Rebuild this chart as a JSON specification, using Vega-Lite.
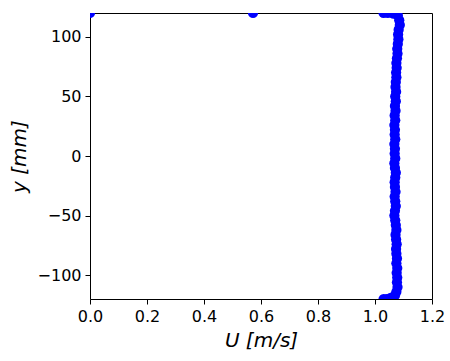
{
  "$schema": "https://vega.github.io/schema/vega-lite/v6.json",
  "width": 342,
  "height": 286,
  "autosize": {"type": "none"},
  "padding": {"left": 90, "top": 13, "right": 18, "bottom": 62},
  "background": "white",
  "config": {
    "view": {"stroke": "black", "strokeWidth": 1},
    "font": "DejaVu Sans",
    "axis": {
      "grid": false,
      "domain": false,
      "labelFlush": false,
      "tickColor": "black",
      "tickSize": 5,
      "tickWidth": 1,
      "labelColor": "black",
      "labelFont": "DejaVu Sans",
      "labelFontSize": 16,
      "labelPadding": 4,
      "titleFont": "DejaVu Sans",
      "titleFontSize": 20,
      "titleFontWeight": "normal",
      "titleFontStyle": "italic",
      "titleColor": "black"
    }
  },
  "data": {
    "values": [
      {"u": 0.0, "y": 120},
      {"u": 0.572, "y": 120},
      {"u": 1.03, "y": 120},
      {"u": 1.045, "y": 120},
      {"u": 1.065, "y": 119.5},
      {"u": 1.08, "y": 118},
      {"u": 1.085, "y": 114},
      {"u": 1.087, "y": 110},
      {"u": 1.083, "y": 106},
      {"u": 1.081, "y": 102},
      {"u": 1.082, "y": 98},
      {"u": 1.08, "y": 94},
      {"u": 1.078, "y": 90},
      {"u": 1.079, "y": 86},
      {"u": 1.077, "y": 82},
      {"u": 1.075, "y": 78},
      {"u": 1.076, "y": 74},
      {"u": 1.074, "y": 70},
      {"u": 1.075, "y": 66},
      {"u": 1.073, "y": 62},
      {"u": 1.072, "y": 58},
      {"u": 1.074, "y": 54},
      {"u": 1.071, "y": 50},
      {"u": 1.073, "y": 46},
      {"u": 1.07, "y": 42},
      {"u": 1.072, "y": 38},
      {"u": 1.069, "y": 34},
      {"u": 1.071, "y": 30},
      {"u": 1.068, "y": 26},
      {"u": 1.07, "y": 22},
      {"u": 1.069, "y": 18},
      {"u": 1.071, "y": 14},
      {"u": 1.068, "y": 10},
      {"u": 1.07, "y": 6},
      {"u": 1.069, "y": 2},
      {"u": 1.071, "y": -2},
      {"u": 1.068, "y": -6},
      {"u": 1.07, "y": -10},
      {"u": 1.073, "y": -14},
      {"u": 1.071, "y": -18},
      {"u": 1.069, "y": -22},
      {"u": 1.07, "y": -26},
      {"u": 1.072, "y": -30},
      {"u": 1.069, "y": -34},
      {"u": 1.071, "y": -38},
      {"u": 1.073, "y": -42},
      {"u": 1.07, "y": -46},
      {"u": 1.068, "y": -50},
      {"u": 1.071, "y": -54},
      {"u": 1.073, "y": -58},
      {"u": 1.075, "y": -62},
      {"u": 1.072, "y": -66},
      {"u": 1.074, "y": -70},
      {"u": 1.076, "y": -74},
      {"u": 1.074, "y": -78},
      {"u": 1.075, "y": -82},
      {"u": 1.077, "y": -86},
      {"u": 1.075, "y": -90},
      {"u": 1.078, "y": -94},
      {"u": 1.076, "y": -98},
      {"u": 1.078, "y": -102},
      {"u": 1.077, "y": -106},
      {"u": 1.079, "y": -110},
      {"u": 1.075, "y": -114},
      {"u": 1.07, "y": -117},
      {"u": 1.055, "y": -119},
      {"u": 1.04, "y": -120},
      {"u": 1.03, "y": -120}
    ]
  },
  "mark": {"type": "circle", "color": "#0000ff", "opacity": 1, "size": 105, "clip": true},
  "encoding": {
    "x": {
      "field": "u",
      "type": "quantitative",
      "scale": {"domain": [0, 1.2], "nice": false, "zero": false},
      "axis": {"values": [0, 0.2, 0.4, 0.6, 0.8, 1.0, 1.2], "format": ".1f", "title": "U [m/s]", "titlePadding": 6}
    },
    "y": {
      "field": "y",
      "type": "quantitative",
      "scale": {"domain": [-120, 120], "nice": false, "zero": false},
      "axis": {"values": [-100, -50, 0, 50, 100], "format": "d", "title": "y [mm]", "titlePadding": 8}
    }
  }
}
